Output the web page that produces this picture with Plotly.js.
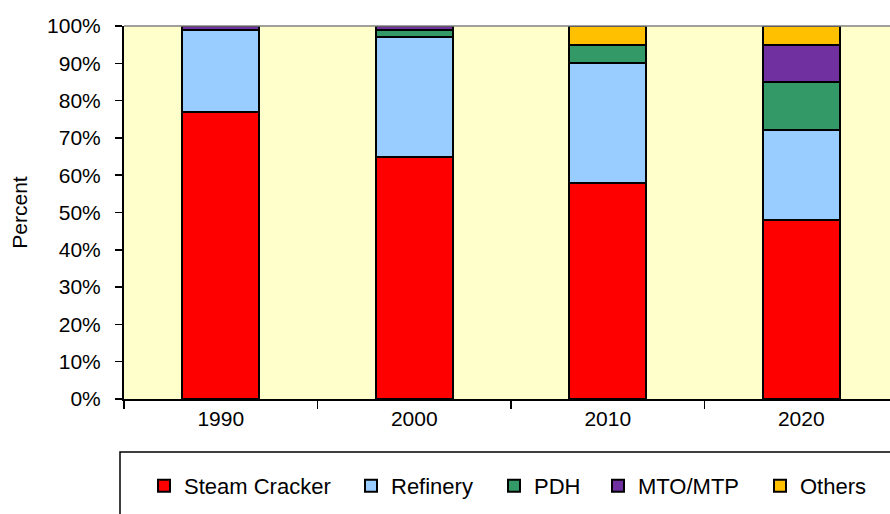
<!DOCTYPE html>
<html>
<head>
<meta charset="utf-8">
<script src="https://cdn.plot.ly/plotly-3.0.1.min.js"></script>
<style>html,body{margin:0;padding:0;background:#fff;}#chart{width:890px;height:514px;}</style>
</head>
<body>
<div id="chart"></div>
<script>
var years = ['1990', '2000', '2010', '2020'];
var steamCracker = [77, 65, 58, 48];
var refinery = [22, 32, 32, 24];
var pdh = [0, 2, 5, 13];
var mtoMtp = [1, 1, 0, 10];
var others = [0, 0, 5, 5];

var seriesNames = ['Steam Cracker', 'Refinery', 'PDH', 'MTO/MTP', 'Others'];
var seriesValues = [steamCracker, refinery, pdh, mtoMtp, others];
var seriesColors = ['#FF0000', '#99CCFF', '#339966', '#7030A0', '#FFC000'];
var legendIds = ['legend', 'legend2', 'legend3', 'legend4', 'legend5'];
var legendLeftPx = [144, 351, 494, 598, 760];

var traces = seriesNames.map(function (name, i) {
  return {
    type: 'bar',
    name: name,
    x: years,
    y: seriesValues[i],
    width: 0.4,
    legend: legendIds[i],
    marker: {color: seriesColors[i], line: {color: '#000', width: 2}},
    hoverinfo: 'skip'
  };
});

var plotW = 766, plotH = 373;
var layout = {
  width: 890, height: 514,
  margin: {l: 124, r: 0, t: 26, b: 115, pad: 0},
  barmode: 'stack',
  paper_bgcolor: '#ffffff',
  plot_bgcolor: '#FFFFCC',
  font: {family: 'Liberation Sans, Arial, sans-serif', size: 21, color: '#000'},
  xaxis: {
    type: 'category',
    range: [-0.5, -0.5 + plotW / 193.5],
    tickson: 'boundaries',
    ticks: 'outside', ticklen: 8, tickwidth: 1.5, tickcolor: '#000',
    showline: true, linecolor: '#000', linewidth: 2,
    showgrid: false, zeroline: false,
    tickfont: {size: 21}
  },
  yaxis: {
    range: [0, 100],
    dtick: 10,
    ticksuffix: '%',
    ticks: 'outside', ticklen: 7, tickwidth: 1.5, tickcolor: '#000',
    ticklabelstandoff: 10,
    showline: true, linecolor: '#000', linewidth: 2,
    showgrid: false, zeroline: false,
    tickfont: {size: 21},
    title: {text: 'Percent', font: {size: 21}, standoff: 14}
  },
  showlegend: true,
  shapes: [
    {type: 'rect', xref: 'paper', yref: 'paper',
     x0: (120 - 124) / plotW, x1: 1.2, y0: (399 - 452) / plotH, y1: -0.6,
     line: {color: '#000', width: 1.5}, fillcolor: '#fff', layer: 'below'},
    {type: 'line', xref: 'paper', yref: 'paper', x0: 0, x1: 1, y0: 1, y1: 1,
     line: {color: '#808080', width: 1.5}}
  ]
};

legendIds.forEach(function (id, i) {
  layout[id] = {
    orientation: 'h',
    x: (legendLeftPx[i] - 124) / plotW, xanchor: 'left',
    y: (399 - 486) / plotH, yanchor: 'middle',
    bgcolor: 'rgba(0,0,0,0)',
    borderwidth: 0,
    font: {size: 22}
  };
});

Plotly.newPlot('chart', traces, layout, {staticPlot: true, displayModeBar: false});
</script>
</body>
</html>
